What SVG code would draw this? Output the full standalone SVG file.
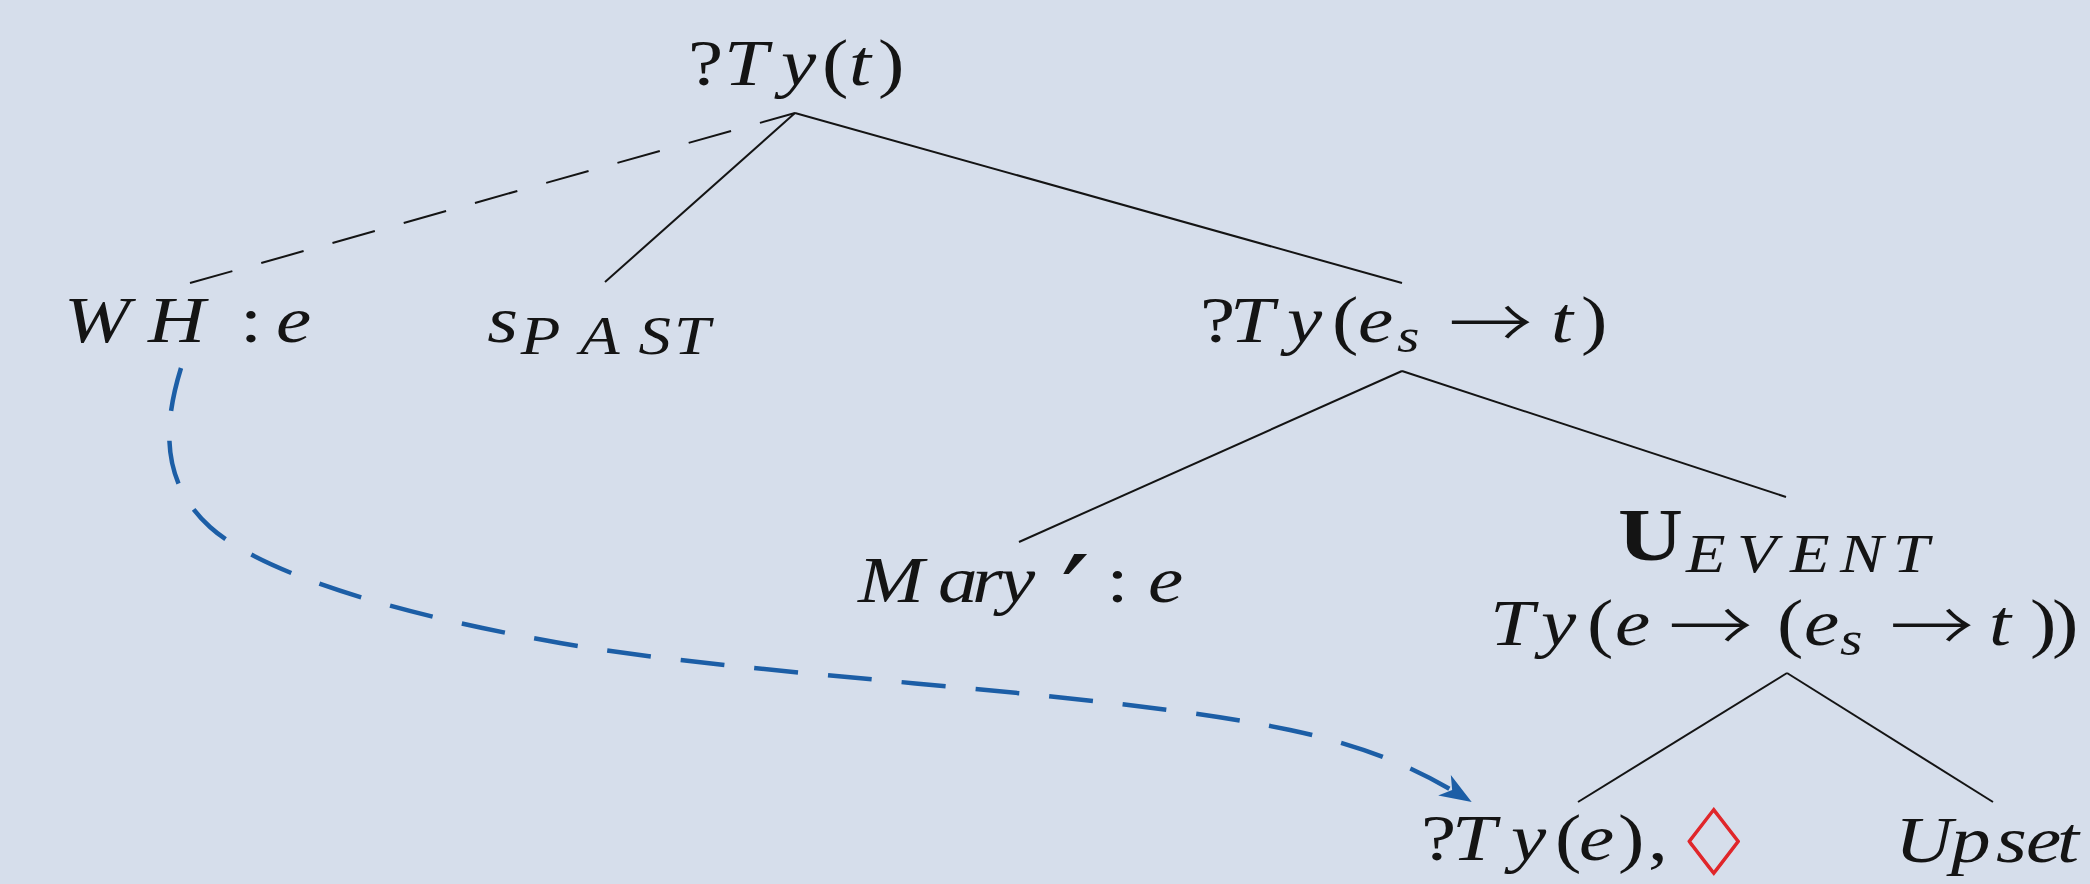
<svg xmlns="http://www.w3.org/2000/svg" width="2090" height="884" viewBox="0 0 2090 884">
<defs>
<style>
.t{font-family:"Liberation Serif","Times New Roman",serif;font-size:66px;fill:#141414}
.i{font-style:italic}
.sub{font-size:54px;font-style:italic}
.sb{font-size:48px;font-style:italic}
.bold{font-weight:bold;font-size:75px}
.ar{font-family:"Noto Sans CJK JP","DejaVu Sans",sans-serif;font-size:70px;font-style:normal;font-weight:300}
.pr{font-family:"DejaVu Sans",sans-serif;font-size:108px;font-style:normal}
.ln{stroke:#141414;stroke-width:2;fill:none}
.dash{stroke-dasharray:44 30}
.blue{stroke:#1c5ea6;stroke-width:4.5;fill:none;stroke-dasharray:44 30}
</style>
<marker id="ah" viewBox="-32 -14 34 28" refX="0" refY="0" markerWidth="34" markerHeight="28" markerUnits="userSpaceOnUse" orient="auto" overflow="visible">
<path d="M2,0 L-30,-12 L-21,0 L-30,12 Z" fill="#1c5ea6"/>
</marker>
</defs>
<rect width="2090" height="884" fill="#d6deeb"/>
<g id="connectors">
<line class="ln dash" x1="190" y1="283" x2="795" y2="113"/>
<line class="ln" x1="795" y1="113" x2="605" y2="282"/>
<line class="ln" x1="795" y1="113" x2="1402" y2="283"/>
<line class="ln" x1="1402" y1="371" x2="1019" y2="542"/>
<line class="ln" x1="1402" y1="371" x2="1786" y2="497"/>
<line class="ln" x1="1787" y1="673" x2="1578" y2="802"/>
<line class="ln" x1="1787" y1="673" x2="1993" y2="802"/>
<path class="blue" marker-end="url(#ah)" d="M181,368 C165,420 158,480 210,527 C262,574 400,615 560,643 C760,678 1100,690 1290,730 C1370,747 1420,770 1470,801"/>
</g>
<g id="root">
<text class="t" y="85" transform="scale(1.2,1)"><tspan x="573.3">?</tspan><tspan x="603.3" class="i">T</tspan><tspan x="650.8" class="i">y</tspan><tspan x="685">(</tspan><tspan x="707.5" class="i">t</tspan><tspan x="731.7">)</tspan></text>
</g>
<g id="wh">
<text class="t" y="342" transform="scale(1.2,1)"><tspan x="53.3" class="i">W</tspan><tspan x="123.3" class="i">H</tspan><tspan x="200">:</tspan><tspan x="230" class="i">e</tspan></text>
</g>
<g id="spast">
<text class="t" y="342" transform="scale(1.2,1)"><tspan x="406" class="i">s</tspan><tspan x="434" y="354" class="sub">P</tspan><tspan x="483.3" y="354" class="sub">A</tspan><tspan x="532" y="354" class="sub">S</tspan><tspan x="561.7" y="354" class="sub">T</tspan></text>
</g>
<g id="ty-es-t">
<text class="t" y="342" transform="scale(1.2,1)"><tspan x="1000">?</tspan><tspan x="1025" class="i">T</tspan><tspan x="1072.5" class="i">y</tspan><tspan x="1110">(</tspan><tspan x="1131.7" class="i">e</tspan><tspan x="1164.2" y="352" class="sb">s</tspan><tspan x="1207" y="349" class="ar">→</tspan><tspan x="1292.5" y="342" class="i">t</tspan><tspan x="1317.5">)</tspan></text>
</g>
<g id="mary">
<text class="t" y="602" transform="scale(1.2,1)"><tspan x="715" class="i">M</tspan><tspan x="781.7" class="i">a</tspan><tspan x="810" class="i">r</tspan><tspan x="833.3" class="i">y</tspan><tspan x="884" y="634" class="pr">′</tspan><tspan x="922" y="602">:</tspan><tspan x="956.7" class="i">e</tspan></text>
</g>
<g id="uevent">
<text class="t" y="560" transform="scale(1.2,1)"><tspan x="1348.3" class="bold">U</tspan><tspan x="1405" y="572" class="sub">E</tspan><tspan x="1447.5" y="572" class="sub">V</tspan><tspan x="1491.7" y="572" class="sub">E</tspan><tspan x="1533.3" y="572" class="sub">N</tspan><tspan x="1577.5" y="572" class="sub">T</tspan></text>
<text class="t" y="645" transform="scale(1.2,1)"><tspan x="1241.7" class="i">T</tspan><tspan x="1284.2" class="i">y</tspan><tspan x="1322.5">(</tspan><tspan x="1345.8" class="i">e</tspan><tspan x="1390.5" y="652" class="ar">→</tspan><tspan x="1480.8" y="645">(</tspan><tspan x="1503.3" class="i">e</tspan><tspan x="1533.3" y="655" class="sb">s</tspan><tspan x="1574.7" y="652" class="ar">→</tspan><tspan x="1657.5" y="645" class="i">t</tspan><tspan x="1691.7">)</tspan><tspan x="1710">)</tspan></text>
</g>
<g id="ty-e">
<text class="t" y="860" transform="scale(1.2,1)"><tspan x="1184.2">?</tspan><tspan x="1210" class="i">T</tspan><tspan x="1259.2" class="i">y</tspan><tspan x="1295.8">(</tspan><tspan x="1315.8" class="i">e</tspan><tspan x="1348.3">)</tspan><tspan x="1373.3">,</tspan></text>
<text x="1672.5" y="875" style="font-family:'DejaVu Sans',sans-serif;font-size:92px;fill:#e0262a;stroke:#e0262a;stroke-width:1.2">♢</text>
</g>
<g id="upset">
<text class="t i" y="862" transform="scale(1.2,1)"><tspan x="1579.2">U</tspan><tspan x="1625.8">p</tspan><tspan x="1663.3">s</tspan><tspan x="1688.3">e</tspan><tspan x="1714.2">t</tspan></text>
</g>
</svg>
